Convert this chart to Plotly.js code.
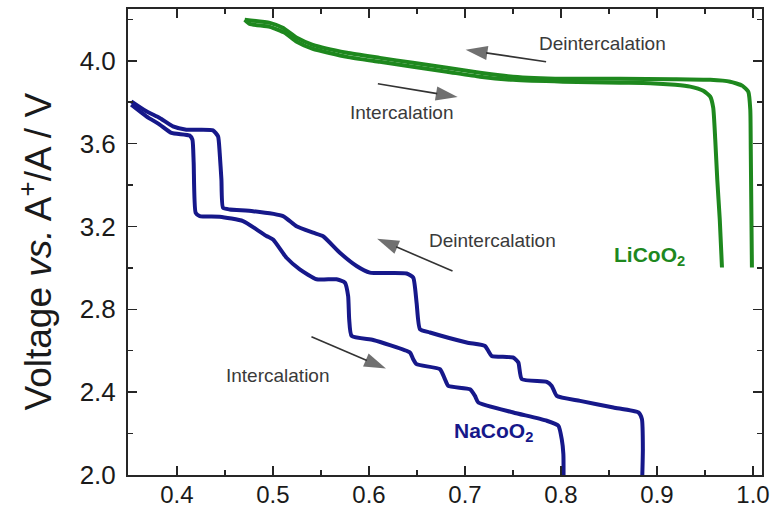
<!DOCTYPE html>
<html>
<head>
<meta charset="utf-8">
<script src="https://cdn.plot.ly/plotly-3.0.1.min.js"></script>
<style>
  html, body { margin: 0; padding: 0; background: #ffffff; }
  #chart { width: 772px; height: 510px; }
</style>
</head>
<body>
<div id="chart"></div>
<script>
// ---- Data ----
// LiCoO2, deintercalation branch (upper, reaches x = 1.0)
const licoo2DeintX = [0.4706, 0.4967, 0.5102, 0.5248, 0.5415, 0.5770, 0.6114, 0.6458, 0.6812, 0.7156, 0.7500, 0.8022, 0.8616, 0.9169, 0.9555, 0.9763, 0.9888, 0.9951, 0.9972, 0.9977, 0.9982, 0.9989];
const licoo2DeintV = [4.198, 4.183, 4.159, 4.111, 4.077, 4.039, 4.014, 3.990, 3.966, 3.942, 3.923, 3.913, 3.913, 3.911, 3.908, 3.899, 3.880, 3.851, 3.764, 3.571, 3.330, 3.002];
// LiCoO2, intercalation branch (lower, reaches x = 0.968)
const licoo2IntX = [0.4706, 0.4758, 0.4967, 0.5123, 0.5248, 0.5415, 0.5770, 0.6114, 0.6458, 0.6812, 0.7156, 0.7500, 0.8022, 0.8616, 0.8929, 0.9190, 0.9346, 0.9482, 0.9555, 0.9586, 0.9607, 0.9628, 0.9654, 0.9677];
const licoo2IntV = [4.198, 4.178, 4.164, 4.135, 4.092, 4.058, 4.019, 3.995, 3.971, 3.947, 3.923, 3.908, 3.899, 3.894, 3.892, 3.884, 3.875, 3.855, 3.827, 3.773, 3.619, 3.427, 3.234, 3.002];

// NaCoO2, deintercalation branch (upper, reaches x = 0.885)
const nacoo2DeintX = [0.3524, 0.3681, 0.3820, 0.3958, 0.4098, 0.4375, 0.4428, 0.4445, 0.4463, 0.4480, 0.4550, 0.4792, 0.5105, 0.5245, 0.5418, 0.5522, 0.5697, 0.5871, 0.6009, 0.6392, 0.6461, 0.6496, 0.6531, 0.6635, 0.7018, 0.7209, 0.7243, 0.7278, 0.7504, 0.7556, 0.7591, 0.7852, 0.7904, 0.7956, 0.8199, 0.8546, 0.8807, 0.8843, 0.8853, 0.8846];
const nacoo2DeintV = [3.804, 3.756, 3.724, 3.683, 3.667, 3.664, 3.635, 3.555, 3.427, 3.290, 3.282, 3.274, 3.250, 3.201, 3.170, 3.153, 3.073, 3.009, 2.977, 2.973, 2.953, 2.832, 2.704, 2.688, 2.640, 2.623, 2.599, 2.575, 2.567, 2.543, 2.463, 2.450, 2.430, 2.382, 2.358, 2.326, 2.302, 2.270, 2.125, 1.980];
// NaCoO2, intercalation branch (lower, reaches x = 0.80)
const nacoo2IntX = [0.3524, 0.3681, 0.3820, 0.3942, 0.4132, 0.4161, 0.4174, 0.4195, 0.4237, 0.4445, 0.4688, 0.4828, 0.4932, 0.5001, 0.5141, 0.5279, 0.5454, 0.5662, 0.5749, 0.5783, 0.5794, 0.5819, 0.6044, 0.6218, 0.6427, 0.6461, 0.6496, 0.6739, 0.6791, 0.6826, 0.7052, 0.7104, 0.7139, 0.7504, 0.7852, 0.7973, 0.8008, 0.8025, 0.8027];
const nacoo2IntV = [3.788, 3.732, 3.692, 3.652, 3.639, 3.619, 3.508, 3.266, 3.250, 3.247, 3.226, 3.186, 3.154, 3.137, 3.049, 2.993, 2.945, 2.945, 2.929, 2.864, 2.752, 2.672, 2.652, 2.627, 2.591, 2.559, 2.535, 2.511, 2.463, 2.430, 2.414, 2.382, 2.350, 2.302, 2.262, 2.238, 2.173, 2.101, 1.980];

// Tick values / labels
const xTickVals = [0.4, 0.5, 0.6, 0.7, 0.8, 0.9, 1.0];
const xTickText = ["0.4", "0.5", "0.6", "0.7", "0.8", "0.9", "1.0"];
const yTickVals = [2.0, 2.4, 2.8, 3.2, 3.6, 4.0];
const yTickText = ["2.0", "2.4", "2.8", "3.2", "3.6", "4.0"];

// Text labels and arrows: [x, y] in data units
const textLabels = [
  { text: "Deintercalation", x: 0.8429, y: 4.082 },
  { text: "Intercalation",   x: 0.6343, y: 3.748 },
  { text: "Deintercalation", x: 0.7290, y: 3.134 },
  { text: "Intercalation",   x: 0.5050, y: 2.479 }
];
const arrowTails = [[0.7845, 3.995], [0.6093, 3.889], [0.6870, 2.985], [0.5401, 2.667]];
const arrowTips  = [[0.7007, 4.053], [0.6924, 3.825], [0.6085, 3.141], [0.6177, 2.514]];

const GREEN = "rgb(30,136,30)";
const NAVY = "rgb(22,24,138)";
const AXIS = "#262626";
const TXT = "#3a3a3a";
const FONT = "Liberation Sans, Arial, sans-serif";

function lineTrace(x, y, color, name) {
  return {
    x: x, y: y, type: "scatter", mode: "lines", name: name,
    line: { color: color, width: 4, shape: "spline", smoothing: 0.5 },
    hoverinfo: "skip"
  };
}

const data = [
  lineTrace(licoo2DeintX, licoo2DeintV, GREEN, "LiCoO2 deintercalation"),
  lineTrace(licoo2IntX, licoo2IntV, GREEN, "LiCoO2 intercalation"),
  lineTrace(nacoo2DeintX, nacoo2DeintV, NAVY, "NaCoO2 deintercalation"),
  lineTrace(nacoo2IntX, nacoo2IntV, NAVY, "NaCoO2 intercalation")
];

// Arrows as short line traces with an arrow marker at the tip
arrowTails.forEach((tail, i) => {
  data.push({
    x: [tail[0], arrowTips[i][0]], y: [tail[1], arrowTips[i][1]],
    type: "scatter", mode: "lines+markers", hoverinfo: "skip",
    line: { color: "#333333", width: 1.6 },
    marker: { symbol: ["circle", "arrow"], size: [0, 23], angleref: "previous",
              color: "#333333", line: { width: 0 } }
  });
});

const annotations = [];
textLabels.forEach(t => annotations.push({
  x: t.x, y: t.y, xref: "x", yref: "y", text: t.text, showarrow: false,
  font: { family: FONT, size: 19, color: TXT }
}));
annotations.push({
  x: 0.8924, y: 3.057, xref: "x", yref: "y", showarrow: false,
  text: "<b>LiCoO<sub>2</sub></b>",
  font: { family: FONT, size: 21, color: GREEN }
});
annotations.push({
  x: 0.7302, y: 2.206, xref: "x", yref: "y", showarrow: false,
  text: "<b>NaCoO<sub>2</sub></b>",
  font: { family: FONT, size: 21, color: NAVY }
});
// Y-axis title placed as a rotated annotation for exact placement
annotations.push({
  x: -0.1441, y: 0.479, xref: "paper", yref: "paper", xanchor: "center", yanchor: "middle",
  showarrow: false, textangle: -90,
  text: "Voltage <i>vs.</i> A<sup>+</sup>/A / V",
  font: { family: FONT, size: 37, color: "#1a1a1a" }
});

const layout = {
  width: 772, height: 510,
  margin: { l: 128.3, r: 10.3, t: 9.3, b: 35, pad: 0 },
  paper_bgcolor: "#ffffff", plot_bgcolor: "#ffffff",
  showlegend: false,
  font: { family: FONT, color: "#1a1a1a" },
  xaxis: {
    range: [0.349, 1.0094], tickvals: xTickVals, ticktext: xTickText,
    ticks: "inside", ticklen: 9, tickwidth: 1.5, tickcolor: AXIS,
    minor: { dtick: 0.05, tick0: 0.35, ticks: "inside", ticklen: 5, tickwidth: 1.5, tickcolor: AXIS },
    showline: true, linecolor: AXIS, linewidth: 2, mirror: "ticks",
    showgrid: false, zeroline: false,
    tickfont: { size: 24, color: "#1a1a1a" }, ticklabelstandoff: -3
  },
  yaxis: {
    range: [2.0, 4.25], tickvals: yTickVals, ticktext: yTickText,
    ticks: "inside", ticklen: 9, tickwidth: 1.5, tickcolor: AXIS,
    minor: { dtick: 0.2, tick0: 2.0, ticks: "inside", ticklen: 5, tickwidth: 1.5, tickcolor: AXIS },
    showline: true, linecolor: AXIS, linewidth: 2, mirror: "ticks",
    showgrid: false, zeroline: false,
    tickfont: { size: 26, color: "#1a1a1a" }, ticklabelstandoff: 5
  },
  annotations: annotations
};

Plotly.newPlot("chart", data, layout, { staticPlot: true, displayModeBar: false });
</script>
</body>
</html>
